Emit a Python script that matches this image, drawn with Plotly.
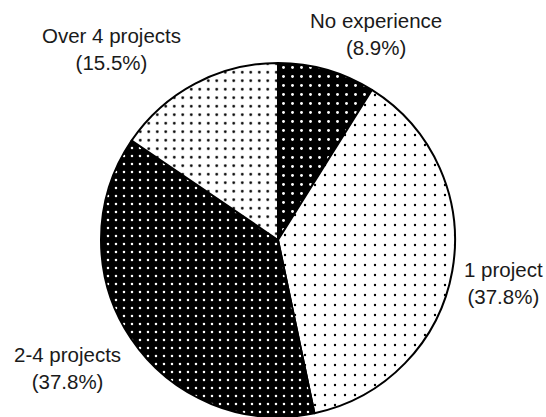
import plotly.graph_objects as go

labels = ["No experience", "1 project", "2-4 projects", "Over 4 projects"]
values = [8.9, 37.8, 37.8, 15.5]

bg_colors = ["#000000", "#ffffff", "#000000", "#ffffff"]
fg_colors = ["#ffffff", "#000000", "#ffffff", "#000000"]
dot_sizes = [9, 10, 8, 8.5]
dot_solidity = [0.08, 0.045, 0.08, 0.08]

W, H = 546, 417
# label anchor points in pixels: (x, y, horizontal anchor)
label_pos = {
    "No experience": (376, 34, "center"),
    "1 project": (545, 283, "right"),
    "2-4 projects": (67, 368, "center"),
    "Over 4 projects": (111, 49, "center"),
}

fig = go.Figure(go.Pie(
    labels=labels,
    values=values,
    sort=False,
    direction="clockwise",
    rotation=0,
    textinfo="none",
    hoverinfo="skip",
    showlegend=False,
    marker=dict(
        colors=bg_colors,
        line=dict(color="#000000", width=2),
        pattern=dict(
            shape=["."] * 4,
            bgcolor=bg_colors,
            fgcolor=fg_colors,
            size=dot_sizes,
            solidity=dot_solidity,
            fillmode="replace",
        ),
    ),
    domain=dict(x=[101 / W, 455 / W], y=[0.0, (H - 63) / H]),
))

annotations = []
for lab, val in zip(labels, values):
    px, py, anchor = label_pos[lab]
    annotations.append(dict(
        text=f"{lab}<br>({val:.1f}%)",
        x=px / W, y=1 - py / H,
        xref="paper", yref="paper",
        xanchor=anchor, yanchor="middle",
        showarrow=False,
        align="center",
        font=dict(family="Liberation Sans, Arial, sans-serif", size=20.5, color="#1a1a1a"),
    ))

fig.update_layout(
    width=W, height=H,
    margin=dict(l=0, r=0, t=0, b=0),
    paper_bgcolor="white",
    plot_bgcolor="white",
    annotations=annotations,
)

fig.write_html("out.html", config={"displayModeBar": False})

# remove default page margin so the figure sits at the window's top-left corner
with open("out.html", "r", encoding="utf-8") as f:
    html = f.read()
html = html.replace("<body>", '<body style="margin:0;padding:0;overflow:hidden">', 1)
with open("out.html", "w", encoding="utf-8") as f:
    f.write(html)
